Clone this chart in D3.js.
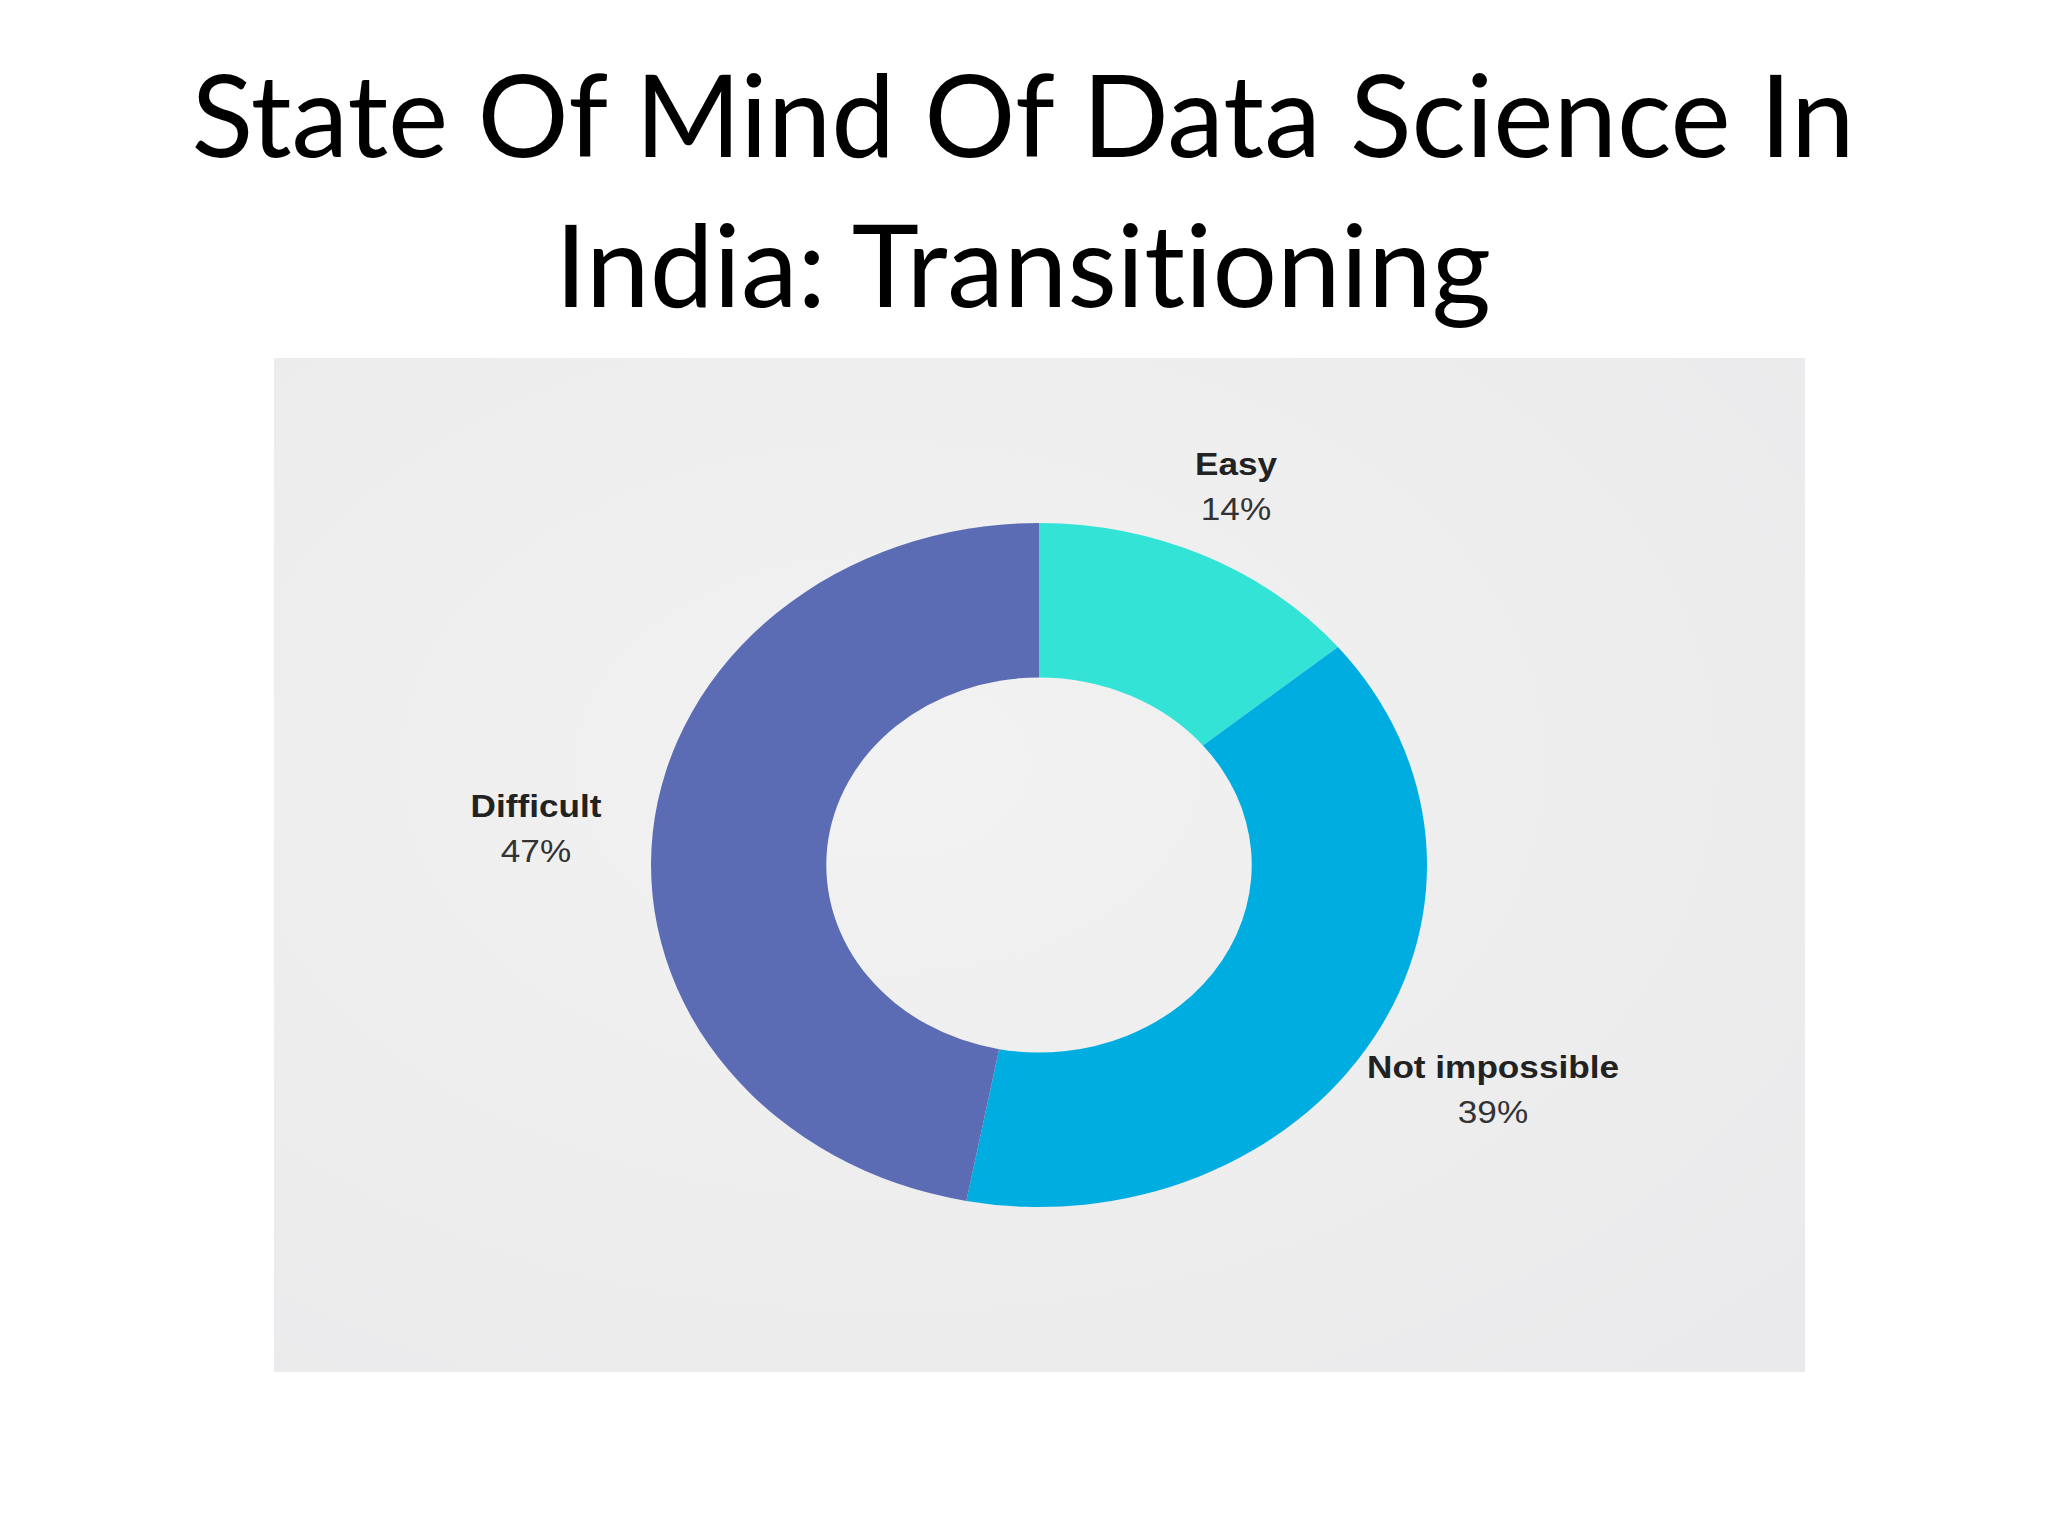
<!DOCTYPE html>
<html>
<head>
<meta charset="utf-8">
<script src="https://cdn.jsdelivr.net/npm/d3@7"></script>
<style>
  html, body { margin: 0; padding: 0; background: #ffffff; }
  svg { display: block; }
</style>
</head>
<body>
<svg id="chart" width="2048" height="1536"></svg>
<script>
const titleLines = ["State Of Mind Of Data Science In", "India: Transitioning"];
const categories = ["Easy", "Not impossible", "Difficult"];
const values = [14, 39, 47];
const colors = ["#33e3d6", "#00ade1", "#5b6cb4"];
const labelPos = [
  { x: 1236, y: 475 },
  { x: 1493, y: 1078 },
  { x: 536, y: 817 }
];

const svg = d3.select("#chart");

const defs = svg.append("defs");
const grad = defs.append("radialGradient").attr("id", "bg").attr("cx", "40%").attr("cy", "40%").attr("r", "80%");
grad.append("stop").attr("offset", "0%").attr("stop-color", "#f2f2f2");
grad.append("stop").attr("offset", "100%").attr("stop-color", "#eaeaec");

// panel
svg.append("rect")
  .attr("x", 274).attr("y", 358)
  .attr("width", 1805 - 274).attr("height", 1372 - 358)
  .attr("fill", "url(#bg)");

// title
const title = svg.append("g").attr("font-family", "Lato, 'Open Sans', sans-serif")
  .attr("font-size", 114).attr("fill", "#000").attr("text-anchor", "middle")
  .style("font-variant-ligatures", "none");
titleLines.forEach((t, i) => {
  title.append("text").attr("x", 1023).attr("y", 157 + i * 150).text(t);
});

// donut (elliptical by horizontal stretch)
const cx = 1039, cy = 865, ry = 342, sx = 388 / 342;
const pie = d3.pie().sort(null).value(d => d);
const arc = d3.arc().innerRadius(ry * 187.5 / 342).outerRadius(ry);
const g = svg.append("g").attr("transform", `translate(${cx},${cy}) scale(${sx},1)`);
g.selectAll("path").data(pie(values)).join("path")
  .attr("d", arc)
  .attr("fill", (d, i) => colors[i]);

// labels
const lab = svg.append("g").attr("font-family", "'Liberation Sans', Arial, sans-serif").attr("text-anchor", "middle");
categories.forEach((c, i) => {
  const p = labelPos[i];
  const gg = lab.append("g").attr("transform", `translate(${p.x},${p.y}) scale(${sx},1)`);
  gg.append("text").attr("x", 0).attr("y", 0)
    .attr("font-size", 31).attr("font-weight", "bold").attr("fill", "#222")
    .text(c);
  gg.append("text").attr("x", 0).attr("y", 45)
    .attr("font-size", 31).attr("fill", "#333")
    .text(values[i] + "%");
});
</script>
</body>
</html>
